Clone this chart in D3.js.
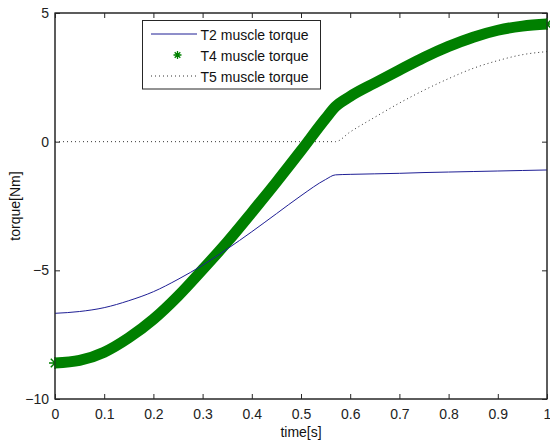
<!DOCTYPE html>
<html><head><meta charset="utf-8">
<script src="https://cdn.jsdelivr.net/npm/d3@7"></script>
<style>
html,body{margin:0;padding:0;background:#fff;}
text{font-family:"Liberation Sans",Arial,sans-serif;}
</style></head>
<body><svg id="c" width="550" height="443"></svg>
<script>
// ---- data ----
const time = [0,0.05,0.1,0.15,0.2,0.25,0.3,0.35,0.4,0.45,0.5,0.55,0.57,0.6,0.65,0.7,0.75,0.8,0.85,0.9,0.95,1.0];
const t2 = [-6.67,-6.60,-6.45,-6.18,-5.83,-5.35,-4.80,-4.17,-3.50,-2.80,-2.10,-1.47,-1.29,-1.27,-1.25,-1.23,-1.20,-1.18,-1.16,-1.14,-1.12,-1.10];
const t4 = [-8.60,-8.50,-8.18,-7.62,-6.90,-6.00,-4.97,-3.90,-2.75,-1.57,-0.35,0.90,1.36,1.76,2.28,2.78,3.27,3.70,4.06,4.33,4.49,4.57];
const t5 = [0,0,0,0,0,0,0,0,0,0,0,0,0,0.38,0.95,1.50,2.00,2.45,2.85,3.15,3.38,3.50];
const xTicks = [0,0.1,0.2,0.3,0.4,0.5,0.6,0.7,0.8,0.9,1];
const yTicks = [-10,-5,0,5];
const seriesNames = ["T2 muscle torque","T4 muscle torque","T5 muscle torque"];

const svg = d3.select("#c");
const L=55,R=547,T=13,B=399;
const x = d3.scaleLinear().domain([0,1]).range([L,R]);
const y = d3.scaleLinear().domain([-10,5]).range([B,T]);
const axisCol="#262626";
const blue="#1f1f95", green="#008000", dotCol="#333";

svg.append("rect").attr("x",L).attr("y",T).attr("width",R-L).attr("height",B-T)
  .attr("fill","#fff").attr("stroke",axisCol).attr("stroke-width",1);

const fmtX = d=> d===0?"0":(d===1?"1":d3.format(".1f")(d));
const gb = svg.append("g").attr("transform",`translate(0,${B})`)
  .call(d3.axisBottom(x).tickValues(xTicks).tickSize(-5).tickPadding(10).tickFormat(fmtX));
const gt = svg.append("g").attr("transform",`translate(0,${T})`)
  .call(d3.axisTop(x).tickValues(xTicks).tickSize(-5).tickFormat(""));
const gl = svg.append("g").attr("transform",`translate(${L},0)`)
  .call(d3.axisLeft(y).tickValues(yTicks).tickSize(-5).tickPadding(6));
const gr = svg.append("g").attr("transform",`translate(${R},0)`)
  .call(d3.axisRight(y).tickValues(yTicks).tickSize(-5).tickFormat(""));
[gb,gt,gl,gr].forEach(g=>{
  g.select(".domain").remove();
  g.selectAll(".tick line").attr("stroke",axisCol);
  g.selectAll("text").attr("font-size",14).attr("fill","#222");
});

const data = time.map((t,i)=>({t,a:t2[i],b:t4[i],c:t5[i]}));
const plot = svg.append("g");

plot.append("path").datum(data)
  .attr("d",d3.line().x(d=>x(d.t)).y(d=>y(d.c)).curve(d3.curveMonotoneX))
  .attr("fill","none").attr("stroke",dotCol).attr("stroke-width",1).attr("stroke-dasharray","1,3");

plot.append("path").datum(data)
  .attr("d",d3.line().x(d=>x(d.t)).y(d=>y(d.b)).curve(d3.curveMonotoneX))
  .attr("fill","none").attr("stroke",green).attr("stroke-width",11).attr("stroke-linejoin","round");

function star(g,cx,cy,r,w){
  const p=`M${cx-r},${cy}H${cx+r}M${cx},${cy-r}V${cy+r}`+
    `M${cx-r*0.7},${cy-r*0.7}L${cx+r*0.7},${cy+r*0.7}M${cx-r*0.7},${cy+r*0.7}L${cx+r*0.7},${cy-r*0.7}`;
  g.append("path").attr("d",p).attr("stroke",green).attr("stroke-width",w).attr("fill","none");
}
[data[0],data[data.length-1]].forEach(d=>star(plot,x(d.t),y(d.b),6,1.5));

plot.append("path").datum(data)
  .attr("d",d3.line().x(d=>x(d.t)).y(d=>y(d.a)).curve(d3.curveMonotoneX))
  .attr("fill","none").attr("stroke",blue).attr("stroke-width",1);

svg.append("rect").attr("x",L).attr("y",T).attr("width",R-L).attr("height",B-T)
  .attr("fill","none").attr("stroke",axisCol).attr("stroke-width",1);

const lg = svg.append("g");
lg.append("rect").attr("x",142.5).attr("y",20.5).attr("width",178).attr("height",68.5)
  .attr("fill","#fff").attr("stroke",axisCol).attr("stroke-width",1);
const rows=[34,55,76];
lg.append("line").attr("x1",151).attr("x2",197).attr("y1",rows[0]).attr("y2",rows[0])
  .attr("stroke",blue).attr("stroke-width",1);
star(lg,177.5,rows[1],4,1.3);
lg.append("line").attr("x1",151).attr("x2",197).attr("y1",rows[2]).attr("y2",rows[2])
  .attr("stroke",dotCol).attr("stroke-width",1).attr("stroke-dasharray","1,3");
seriesNames.forEach((n,i)=>lg.append("text").attr("x",200.5).attr("y",rows[i]+5.5)
  .attr("font-size",14).attr("fill","#111").text(n));

svg.append("text").attr("x",(L+R)/2).attr("y",437).attr("text-anchor","middle")
  .attr("font-size",14).attr("fill","#111").text("time[s]");
svg.append("text").attr("transform",`translate(20,${(T+B)/2}) rotate(-90)`)
  .attr("text-anchor","middle").attr("font-size",14).attr("fill","#111").text("torque[Nm]");
</script></body></html>
